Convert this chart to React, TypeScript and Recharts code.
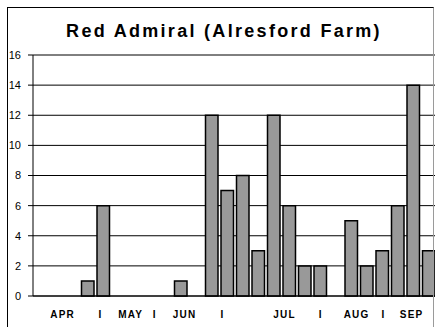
import React from 'react';
import { BarChart, Bar, XAxis, YAxis, CartesianGrid } from 'recharts';

const weeks = ['1','2','3','4','5','6','7','8','9','10','11','12','13','14','15','16','17','18','19','20','21','22','23','24','25','26'];
const counts = [0, 0, 0, 1, 6, 0, 0, 0, 0, 1, 0, 12, 7, 8, 3, 12, 6, 2, 2, 0, 5, 2, 3, 6, 14, 3];
const monthLabels = ['APR', 'I', 'MAY', 'I', 'JUN', 'I', 'JUL', 'I', 'AUG', 'I', 'SEP'];
const monthLabelPos = [1.87, 4.32, 6.26, 7.81, 9.74, 12.19, 16.19, 18.52, 20.84, 22.58, 24.39];
const yTicks = [0, 2, 4, 6, 8, 10, 12, 14, 16];

const data = weeks.map((w, i) => ({ week: w, slot: i + 0.5, count: counts[i] }));

const FONT = '"Liberation Sans", Arial, sans-serif';

const MonthTick = (props: any) => {
  const { x, y, index } = props;
  return (
    <text x={x + 0.6} y={y} dy="0.71em" textAnchor="middle" fontFamily={FONT} fontSize={10} fontWeight="bold" fill="#000" letterSpacing={1.2}>
      {monthLabels[index]}
    </text>
  );
};

export default function App() {
  return (
    <div style={{ position: 'absolute', left: 0, top: 0, width: 435, height: 327, overflow: 'hidden', background: '#fff' }}>
      <BarChart
        width={445}
        height={327}
        data={data}
        margin={{ top: 55, right: 9, left: 0, bottom: 0 }}
        style={{ position: 'absolute', left: 0, top: 0 }}
      >
        <CartesianGrid horizontal vertical={false} stroke="#000" strokeOpacity={1} />
        <XAxis
          xAxisId="lbl"
          dataKey="slot"
          type="number"
          domain={[0, 26]}
          allowDataOverflow
          ticks={monthLabelPos}
          interval={0}
          height={31}
          tickLine={false}
          tickSize={0}
          tickMargin={15}
          axisLine={{ stroke: '#000', strokeWidth: 1 }}
          tick={<MonthTick />}
        />
        <XAxis xAxisId="cat" dataKey="week" type="category" hide height={0} />
        <YAxis
          width={33}
          domain={[0, 16]}
          ticks={yTicks}
          interval={0}
          tickSize={5}
          tickMargin={7}
          axisLine={{ stroke: '#000', strokeWidth: 1 }}
          tickLine={{ stroke: '#000' }}
          tick={{ fontFamily: FONT, fontSize: 11, fill: '#000' }}
        />
        <Bar xAxisId="cat" dataKey="count" fill="#999999" stroke="#000" strokeWidth={1.5} barSize={12.5} isAnimationActive={false} />
      </BarChart>
      <div
        style={{
          position: 'absolute',
          left: 7,
          top: 7,
          width: 425,
          height: 330,
          borderLeft: '1px solid #000',
          borderTop: '1px solid #000',
          borderRight: '1px solid #9a9a9a',
          pointerEvents: 'none',
        }}
      />
      <div
        style={{
          position: 'absolute',
          left: 2,
          top: 22,
          width: 444,
          textAlign: 'center',
          fontFamily: FONT,
          fontSize: 18,
          lineHeight: '18px',
          fontWeight: 'bold',
          letterSpacing: 2.3,
          color: '#000',
        }}
      >
        Red Admiral (Alresford Farm)
      </div>
    </div>
  );
}
